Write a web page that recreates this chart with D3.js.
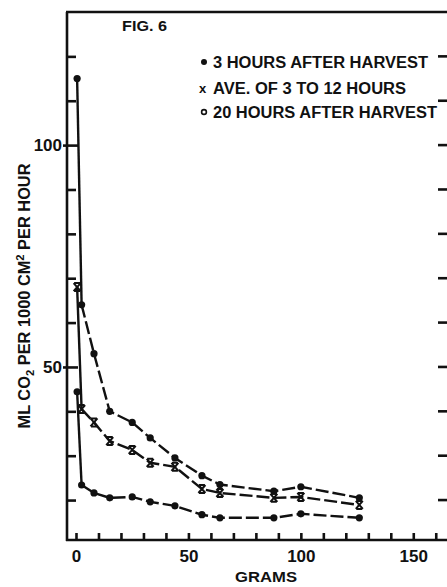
<!DOCTYPE html>
<html lang="en">
<head>
    <meta charset="UTF-8">
    <title>Fig. 6</title>
    <style type="text/css">
        body { margin: 0; background: #fff; }
        svg text {
            font-family: "Liberation Sans", Arial, sans-serif;
            font-weight: bold;
            fill: #111;
        }
        .frame, .tick line, .domain {
            stroke: #111;
            stroke-width: 2.6;
        }
        .series {
            fill: none;
            stroke: #111;
            stroke-width: 2.4;
        }
        .dot { fill: #111; }
        .cross { fill: none; stroke: #111; stroke-width: 2; }
    </style>
</head>
<body>
    <svg></svg>

    <script src="https://d3js.org/d3.v7.min.js"></script>
    <script>
        // values
        var grams = [0.5, 2.5, 8, 15, 25, 33, 44, 56, 64, 88, 100, 126];
        var threeHours = [115, 64, 53, 40, 37.5, 34, 29.5, 25.5, 23.5, 22, 23, 20.5];
        var aveHours = [68, 40.5, 37.5, 33.3, 31.3, 28.4, 27.5, 22.5, 21.6, 20.5, 20.7, 18.9];
        var twentyHours = [44.4, 23.4, 21.6, 20.5, 20.7, 19.6, 18.7, 16.7, 16, 16, 16.9, 16];

        var xTicks = d3.range(0, 161, 10);
        var xLabels = [0, 50, 100, 150];
        var yTicks = d3.range(20, 121, 10);
        var yLabels = [50, 100];

        var legendLabels = ['3 HOURS AFTER HARVEST', 'AVE. OF 3 TO 12 HOURS', '20 HOURS AFTER HARVEST'];

        var svgWidth = 447
        var svgHeight = 587

        var svg = d3.select('svg')
            .attr('width', svgWidth)
            .attr('height', svgHeight)

        var x = d3.scaleLinear().domain([-4, 165]).range([67, 447])
        var y = d3.scaleLinear().domain([11, 130]).range([540, 12])

        // frame: top edge (right edge falls just outside the picture)
        svg.append('line').attr('class', 'frame')
            .attr('x1', 66).attr('x2', 447).attr('y1', 12).attr('y2', 12)

        // x axis, ticks pointing up
        var xAxis = svg.append('g')
            .attr('transform', 'translate(0,540)')
            .call(d3.axisBottom(x).tickValues(xTicks).tickSizeInner(-7).tickSizeOuter(0).tickPadding(10)
                .tickFormat(function(d){ return xLabels.indexOf(d) >= 0 ? d : '' }))
        xAxis.select('.domain').attr('d', 'M66,0H447')
        xAxis.selectAll('text').style('font-size', '17px').attr('dy', '0.71em')

        // left axis, ticks pointing in
        var yAxis = svg.append('g')
            .attr('transform', 'translate(67,0)')
            .call(d3.axisLeft(y).tickValues(yTicks).tickSizeInner(-9).tickSizeOuter(0).tickPadding(5)
                .tickFormat(function(d){ return yLabels.indexOf(d) >= 0 ? d : '' }))
        yAxis.select('.domain').attr('d', 'M0,12V541')
        yAxis.selectAll('text').style('font-size', '17px')
        yAxis.selectAll('.tick line')
            .filter(function(d){ return yLabels.indexOf(d) >= 0 })
            .attr('x1', -4).attr('x2', 11)

        // right side ticks
        svg.append('g').selectAll('line')
            .data(yTicks)
            .enter()
            .append('line')
            .attr('class', 'frame')
            .attr('x1', 438).attr('x2', 448)
            .attr('y1', function(d){ return y(d) })
            .attr('y2', function(d){ return y(d) })

        // axis titles
        svg.append('text')
            .attr('x', 266).attr('y', 582)
            .attr('text-anchor', 'middle')
            .attr('textLength', 62).attr('lengthAdjust', 'spacingAndGlyphs')
            .style('font-size', '15px')
            .text('GRAMS')

        var yTitle = svg.append('text')
            .attr('transform', 'translate(30,296) rotate(-90)')
            .attr('text-anchor', 'middle')
            .style('font-size', '16px')
        yTitle.append('tspan').text('ML CO')
        yTitle.append('tspan').attr('dy', 4).style('font-size', '11px').text('2')
        yTitle.append('tspan').attr('dy', -4).text(' PER 1000 CM')
        yTitle.append('tspan').attr('dy', -6).style('font-size', '11px').text('2')
        yTitle.append('tspan').attr('dy', 6).text(' PER HOUR')
        yTitle.attr('textLength', 265).attr('lengthAdjust', 'spacingAndGlyphs')

        svg.append('text')
            .attr('x', 122).attr('y', 31)
            .attr('textLength', 45).attr('lengthAdjust', 'spacingAndGlyphs')
            .style('font-size', '14px')
            .text('FIG. 6')

        // lines: the steep first step is solid, the rest broken
        var line = d3.line()
            .x(function(d){ return x(d[0]) })
            .y(function(d){ return y(d[1]) })

        function drawSeries(values) {
            var pts = d3.zip(grams, values)
            svg.append('path').attr('class', 'series')
                .attr('d', line(pts.slice(0, 2)))
            svg.append('path').attr('class', 'series')
                .attr('stroke-dasharray', '13 4')
                .attr('d', line(pts.slice(1)))
            return pts
        }

        var dots1 = drawSeries(threeHours)
        var dots2 = drawSeries(aveHours)
        var dots3 = drawSeries(twentyHours)

        function crossPath(cx, cy) {
            return 'M' + (cx - 3.5) + ',' + (cy - 4) + 'L' + (cx + 3.5) + ',' + (cy + 4)
                + 'M' + (cx + 3.5) + ',' + (cy - 4) + 'L' + (cx - 3.5) + ',' + (cy + 4)
                + 'M' + (cx - 3) + ',' + (cy - 4) + 'H' + (cx + 3)
                + 'M' + (cx - 3) + ',' + (cy + 4) + 'H' + (cx + 3)
        }

        svg.append('g').selectAll('circle')
            .data(dots1.concat(dots3))
            .enter()
            .append('circle')
            .attr('class', 'dot')
            .attr('cx', function(d){ return x(d[0]) })
            .attr('cy', function(d){ return y(d[1]) })
            .attr('r', 3.6)

        svg.append('g').selectAll('path')
            .data(dots2)
            .enter()
            .append('path')
            .attr('class', 'cross')
            .attr('d', function(d){ return crossPath(x(d[0]), y(d[1])) })

        // legend
        var legendY = [62, 88, 112]
        var legendW = [215, 193, 224]
        legendLabels.forEach(function(label, i){
            svg.append('text')
                .attr('x', 213).attr('y', legendY[i] + 6)
                .attr('textLength', legendW[i]).attr('lengthAdjust', 'spacingAndGlyphs')
                .style('font-size', '16px')
                .text(label)
        })
        svg.append('circle').attr('class', 'dot').attr('cx', 204).attr('cy', legendY[0]).attr('r', 3)
        svg.append('text').attr('x', 199).attr('y', legendY[1] + 5).style('font-size', '13px').text('x')
        svg.append('circle').attr('cx', 204).attr('cy', legendY[2])
            .attr('r', 2.4).attr('fill', '#fff').attr('stroke', '#111').attr('stroke-width', 1.6)
    </script>
</body>
</html>
